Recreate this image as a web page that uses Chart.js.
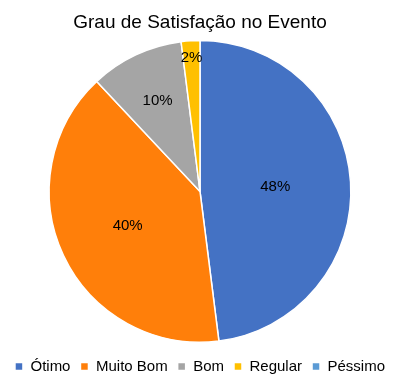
<!DOCTYPE html>
<html>
<head>
<meta charset="utf-8">
<script src="https://cdn.jsdelivr.net/npm/chart.js@4"></script>
<style>
  html, body { margin: 0; padding: 0; background: #fff; }
  #wrap { width: 410px; height: 386px; }
</style>
</head>
<body>
<div id="wrap"><canvas id="pieChart"></canvas></div>
<script>
// Données du graphique
const categorias = ['Ótimo', 'Muito Bom', 'Bom', 'Regular', 'Péssimo'];
const percentuais = [48, 40, 10, 2, 0];
const cores = ['#4472C4', '#FF7F0A', '#A5A5A5', '#FFC000', '#5B9BD5'];

// Distance des étiquettes depuis le centre (fraction du rayon)
const posEtiquettes = [0.5, 0.53, 0.66, 0.89, 0.8];

const police = '"Liberation Sans", Arial, sans-serif';

const etiquettesPlugin = {
    id: 'etiquettes',
    afterDatasetsDraw(chart) {
        const ctx = chart.ctx;
        const meta = chart.getDatasetMeta(0);
        ctx.save();
        ctx.font = '15px ' + police;
        ctx.fillStyle = '#000';
        ctx.textAlign = 'center';
        ctx.textBaseline = 'middle';
        meta.data.forEach((arc, i) => {
            const v = chart.data.datasets[0].data[i];
            if (!v) return;
            const p = arc.getProps(['startAngle', 'endAngle', 'outerRadius', 'x', 'y'], true);
            const a = (p.startAngle + p.endAngle) / 2;
            const r = p.outerRadius * posEtiquettes[i];
            ctx.fillText(v + '%', p.x + Math.cos(a) * r, p.y + Math.sin(a) * r);
        });
        ctx.restore();
    }
};

const ctxPie = document.getElementById('pieChart').getContext('2d');
const pieChart = new Chart(ctxPie, {
    type: 'pie',
    data: {
        labels: categorias,
        datasets: [{
            data: percentuais,
            backgroundColor: cores,
            borderColor: '#fff',
            borderWidth: 1.5
        }]
    },
    options: {
        responsive: true,
        maintainAspectRatio: false,
        animation: false,
        layout: {
            padding: { left: 0, right: 10, top: 0, bottom: 2 }
        },
        plugins: {
            title: {
                display: true,
                text: 'Grau de Satisfação no Evento',
                color: '#000',
                font: { family: police, size: 19, weight: 'normal' },
                padding: { top: 11, bottom: 6 }
            },
            legend: {
                position: 'bottom',
                // titre vide : sert seulement à descendre un peu la ligne de la légende
                title: { display: true, text: ' ', font: { size: 5 }, padding: 0 },
                labels: {
                    color: '#000',
                    font: { family: police, size: 15 },
                    boxWidth: 8,
                    boxHeight: 8,
                    padding: 10
                }
            },
            tooltip: { enabled: false }
        }
    },
    plugins: [etiquettesPlugin]
});
</script>
</body>
</html>
